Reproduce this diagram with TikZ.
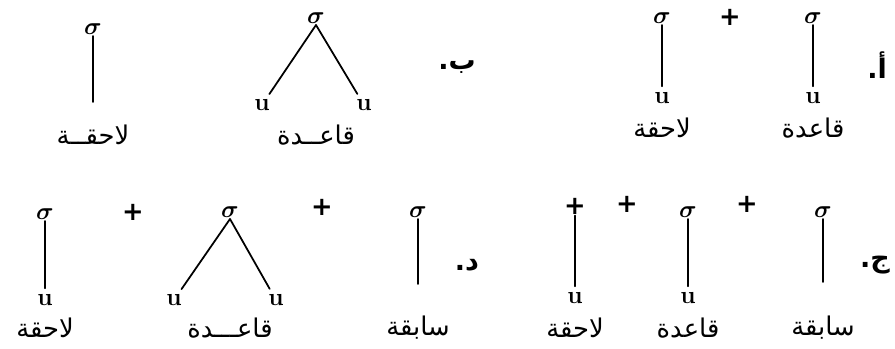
\documentclass[tikz,border=0pt]{standalone}
\usepackage{fontspec}
\newfontfamily\arabicfont[Script=Arabic]{DejaVu Sans}
\TeXXeTstate=1
\usetikzlibrary{positioning}

\begin{document}
\begin{tikzpicture}[
                x=0.03cm, y=-0.03cm,
                sig/.style={inner sep=1pt, anchor=south, font=\fontsize{22}{24}\selectfont\boldmath},
                unit/.style={inner sep=1pt, font=\rmfamily\bfseries\fontsize{21}{24}\selectfont},
                plus/.style={inner sep=1pt, font=\arabicfont\bfseries\fontsize{22}{24}\selectfont},
                word/.style={inner sep=0pt, font=\arabicfont\fontsize{22}{26}\selectfont},
                tag/.style={inner sep=0pt, font=\arabicfont\bfseries\fontsize{23}{26}\selectfont},
                link/.style={line width=1.5pt, line cap=round, shorten >=4pt}
            ]
                \useasboundingbox (0,0) rectangle (895,349);

                % top row, right: a.
                \node[tag] (tagA) at (877,65) {\beginR أ\kern0pt.\endR};
                \node[sig] (sigAb) at (813,25) {$\sigma$};
                \node[unit] (uAb) at (813,98) {u};
                \node[word] (wAb) at (813,128) {\beginR قاعدة\endR};
                \node[plus] (pA) at (730,17) {+};
                \node[sig] (sigAs) at (662,25) {$\sigma$};
                \node[unit] (uAs) at (662,98) {u};
                \node[word] (wAs) at (662,128) {\beginR لاحقة\endR};

                \draw[link] (sigAb) -- (uAb);
                \draw[link] (sigAs) -- (uAs);

                % top row, left: b.
                \node[tag] (tagB) at (457,67) {\beginR ب\kern0pt.\endR};
                \node[sig] (sigB) at (316,25) {$\sigma$};
                \node[unit] (uBl) at (262,105) {u};
                \node[unit] (uBr) at (364,105) {u};
                \node[word] (wB) at (316,135) {\beginR قاعــدة\endR};
                \node[sig] (sigBs) at (93,36) {$\sigma$};
                \coordinate (endBs) at (93,102);
                \node[word] (wBs) at (93,135) {\beginR لاحقــة\endR};

                \draw[link] (sigB.south) -- (uBl);
                \draw[link] (sigB.south) -- (uBr);
                \draw[link, shorten >=0pt] (sigBs) -- (endBs);

                % bottom row, right: c.
                \node[tag] (tagC) at (875,265) {\beginR ج\kern0pt.\endR};
                \node[sig] (sigCp) at (823,219) {$\sigma$};
                \coordinate (endCp) at (823,282);
                \node[word] (wCp) at (823,328) {\beginR سابقة\endR};
                \node[plus] (pC1) at (747,204) {+};
                \node[sig] (sigCb) at (688,219) {$\sigma$};
                \node[unit] (uCb) at (688,298) {u};
                \node[word] (wCb) at (688,328) {\beginR قاعدة\endR};
                \node[plus] (pC2) at (627,204) {+};
                \node[plus] (pCs) at (575,206) {+};
                \node[unit] (uCs) at (575,298) {u};
                \node[word] (wCs) at (575,328) {\beginR لاحقة\endR};

                \draw[link, shorten >=0pt] (sigCp) -- (endCp);
                \draw[link] (sigCb) -- (uCb);
                \draw[link] (pCs) -- (uCs);

                % bottom row, left: d.
                \node[tag] (tagD) at (467,265) {\beginR د\kern0pt.\endR};
                \node[sig] (sigDp) at (418,219) {$\sigma$};
                \coordinate (endDp) at (418,284);
                \node[word] (wDp) at (418,328) {\beginR سابقة\endR};
                \node[plus] (pD1) at (322,207) {+};
                \node[sig] (sigD) at (230,219) {$\sigma$};
                \node[unit] (uDl) at (174,300) {u};
                \node[unit] (uDr) at (276,300) {u};
                \node[word] (wD) at (230,328) {\beginR قاعـــدة\endR};
                \node[plus] (pD2) at (133,212) {+};
                \node[sig] (sigDs) at (45,221) {$\sigma$};
                \node[unit] (uDs) at (45,300) {u};
                \node[word] (wDs) at (45,328) {\beginR لاحقة\endR};

                \draw[link, shorten >=0pt] (sigDp) -- (endDp);
                \draw[link] (sigD.south) -- (uDl);
                \draw[link] (sigD.south) -- (uDr);
                \draw[link] (sigDs) -- (uDs);
            \end{tikzpicture}
\end{document}
